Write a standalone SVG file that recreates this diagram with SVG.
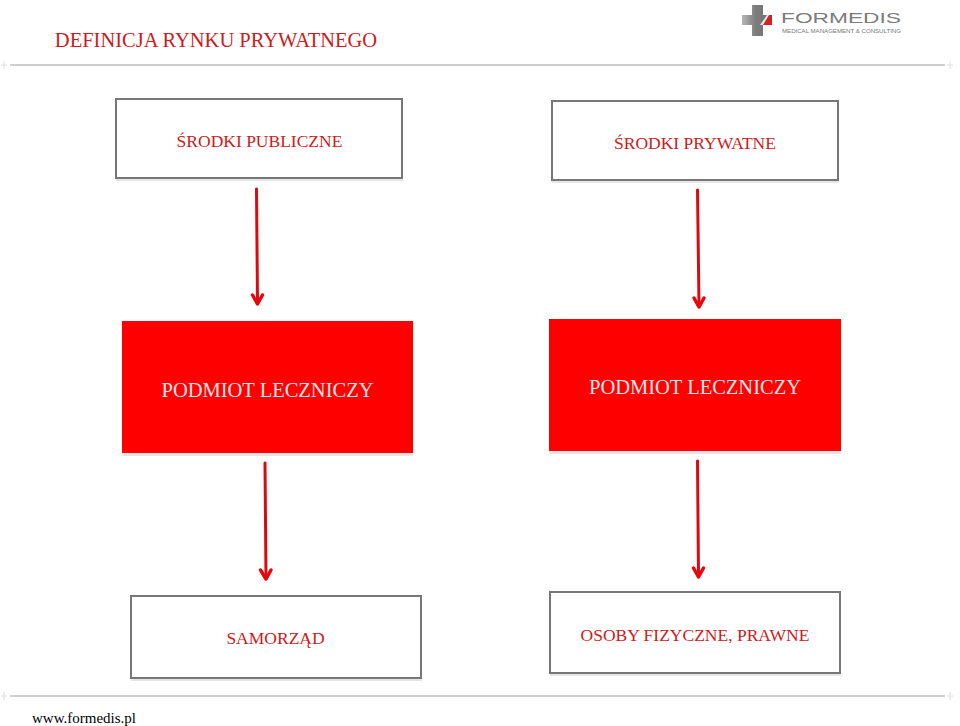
<svg xmlns="http://www.w3.org/2000/svg" width="960" height="726" viewBox="0 0 960 726">
<defs>
<linearGradient id="crossFill" x1="0" y1="0" x2="1" y2="0">
<stop offset="0" stop-color="#b5b5b5"/>
<stop offset=".45" stop-color="#7d7d7d"/>
<stop offset="1" stop-color="#6e6e6e"/>
</linearGradient>
</defs>
<style>
text{font-family:"Liberation Serif","Times New Roman",serif;fill:#cf1a20;font-size:17.5px;text-anchor:middle}
.box{fill:#fff;stroke:#777;stroke-width:2}
.shadow{fill:#e6e6e6}
.red{fill:#fe0000}
.rule{stroke:#cfcfcf;stroke-width:2;fill:none}
.tick{stroke:#dedede;stroke-width:1;fill:none}
.arrow{stroke:#dc0a10;stroke-width:3;fill:none;stroke-linecap:round;stroke-linejoin:round}
.head{stroke:#e8070c;stroke-width:3.500;fill:none;stroke-linecap:round;stroke-linejoin:round}
.logo{font-family:"Liberation Sans",Arial,sans-serif;text-anchor:start}
.onred{fill:#f7e6e6;font-size:20.500px}
</style>
<g id="header-rules">
<path class="rule" d="M10 65H945"/>
<path class="tick" d="M4 61V69M1 65H7M950 61V69M947 65H953"/>
<path class="rule" d="M10 696H945"/>
<path class="tick" d="M4 692V700M1 696H7M950 692V700M947 696H953"/>
</g>
<text id="title" x="216" y="47" style="font-size:20.500px">DEFINICJA RYNKU PRYWATNEGO</text>
<g id="logo">
<path d="M742 15H752V5H763V15H772V25H763V36H752V25H742Z" fill="url(#crossFill)"/>
<path d="M762 25L769 15H772V25Z" fill="#d42027"/>
<path d="M760 25L767 15H769L763 25Z" fill="#e5e5e5"/>
<text class="logo" x="781" y="23" style="font-size:15.500px;fill:#7c7c7c" textLength="120" lengthAdjust="spacingAndGlyphs">FORMEDIS</text>
<text class="logo" x="782" y="33" style="font-size:6px;fill:#777" textLength="119" lengthAdjust="spacingAndGlyphs">MEDICAL MANAGEMENT &amp; CONSULTING</text>
</g>
<g id="connectors">
<path class="arrow" d="M256.500 189L257.500 302"/><path class="head" d="M252.500 295L257.500 304L262.500 295"/>
<path class="arrow" d="M697.500 190L699 305"/><path class="head" d="M694 298L699 307L704 298"/>
<path class="arrow" d="M265 463L266 577"/><path class="head" d="M260.500 570L266 579L271 570"/>
<path class="arrow" d="M697.500 461L698.500 575"/><path class="head" d="M693.500 568L698.500 577L703.500 568"/>
</g>
<g id="srodki-publiczne">
<rect class="shadow" x="116" y="100" width="287" height="81"/>
<rect class="box" x="116" y="99" width="286" height="79"/>
<text x="259.500" y="146.500">ŚRODKI PUBLICZNE</text>
</g>
<g id="srodki-prywatne">
<rect class="shadow" x="552" y="103" width="287" height="80"/>
<rect class="box" x="552" y="101" width="286" height="79"/>
<text x="695" y="149">ŚRODKI PRYWATNE</text>
</g>
<g id="podmiot-1">
<rect class="shadow" x="122" y="323" width="291" height="133"/>
<rect class="red" x="122" y="321" width="291" height="132"/>
<text class="onred" x="267.500" y="397">PODMIOT LECZNICZY</text>
</g>
<g id="podmiot-2">
<rect class="shadow" x="549" y="321" width="292" height="133"/>
<rect class="red" x="549" y="319" width="292" height="132"/>
<text class="onred" x="695" y="394">PODMIOT LECZNICZY</text>
</g>
<g id="samorzad">
<rect class="shadow" x="131" y="597" width="291" height="84"/>
<rect class="box" x="131" y="596" width="290" height="82"/>
<text x="275.500" y="644">SAMORZĄD</text>
</g>
<g id="osoby">
<rect class="shadow" x="550" y="593" width="291" height="83"/>
<rect class="box" x="550" y="592" width="290" height="81"/>
<text x="695" y="640.500">OSOBY FIZYCZNE, PRAWNE</text>
</g>
<text id="footer" x="84" y="723" style="font-size:15px;fill:#000">www.formedis.pl</text>
</svg>
